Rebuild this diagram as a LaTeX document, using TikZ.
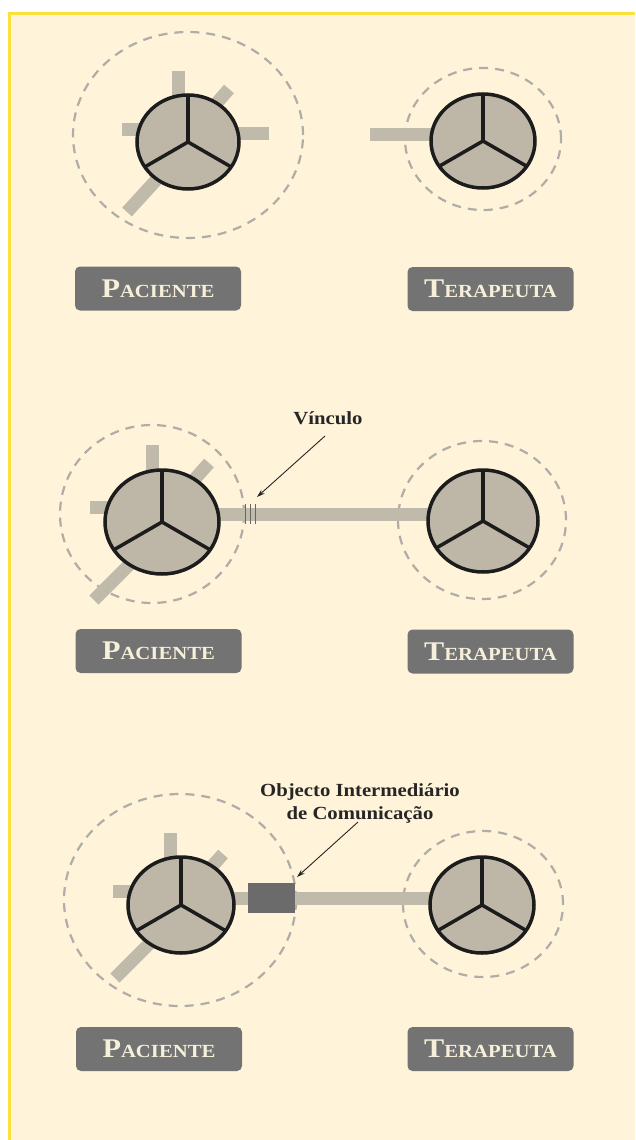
\documentclass[tikz,border=0pt]{standalone}
\usepackage{fontspec}
\setmainfont{Liberation Serif}
\usetikzlibrary{shapes.geometric,arrows.meta}
\definecolor{cream}{HTML}{FFF4D9}
\definecolor{gold}{HTML}{FFDF3A}
\definecolor{taupe}{HTML}{BEB6A7}
\definecolor{barc}{HTML}{C0BAAB}
\definecolor{dashc}{HTML}{B0ADA6}
\definecolor{labelc}{HTML}{737373}
\definecolor{labeltext}{HTML}{F6F0DA}
\definecolor{objc}{HTML}{6B6B6B}
\definecolor{ink}{HTML}{1C1C1C}
\newcommand{\fakesc}[2]{\scalebox{1.12}[1]{{\fontsize{27}{27}\selectfont #1}{\fontsize{18.5}{18.5}\selectfont #2}}}
\newcommand{\wide}[1]{\scalebox{1.12}[1]{#1}}
\tikzset{
  person/.style={ellipse, draw=ink, line width=3.5pt, fill=taupe, inner sep=0pt, outer sep=0pt},
  aura/.style={ellipse, draw=dashc, dash pattern=on 9pt off 7pt, line width=2.2pt, inner sep=0pt},
  bar/.style={draw=barc, line width=13pt},
  spoke/.style={draw=ink, line width=3.5pt},
  labelbox/.style={rectangle, rounded corners=5pt, fill=labelc, text=labeltext, font=\bfseries,
    minimum width=166pt, minimum height=44pt, inner sep=0pt},
  note/.style={font=\bfseries\fontsize{18.5}{23}\selectfont, text=black!85, align=center, inner sep=1pt},
  pointer/.style={draw=black!85, line width=0.9pt, -{Stealth[length=8pt,width=5pt]}},
  marker/.style={draw=black!60, line width=1pt}
}
\begin{document}
\begin{tikzpicture}[x=1pt,y=-1pt]
\useasboundingbox (0,0) rectangle (635,1140);
\fill[white] (0,0) rectangle (635,1140);
\fill[cream] (8,12) rectangle (635,1140);
\draw[gold, line width=2.6pt] (9.3,1140) -- (9.3,13.3) -- (635,13.3);

% ---------- Panel 1 ----------
\node[aura, minimum width=230pt, minimum height=206pt] (a1p) at (188,135) {};
\node[aura, minimum width=156pt, minimum height=142pt] (a1t) at (483,139) {};
\coordinate (p1c) at (188,142);
\coordinate (t1c) at (483,141);
\draw[bar] (178.5,71) -- (178.5,115);
\draw[bar] (229,89) -- (200,122);
\draw[bar] (122,129) -- (150,129);
\draw[bar] (269,133.5) -- (225,133.5);
\draw[bar] (127,212) -- (170,165);
\coordinate (b1) at (370,134);
\draw[bar] (b1) -- ([yshift=7pt]t1c);
\node[person, minimum width=102pt, minimum height=94pt] (p1) at (p1c) {};
\node[person, minimum width=104pt, minimum height=94pt] (t1) at (t1c) {};
\foreach \n in {p1,t1}{
  \draw[spoke] (\n.center) -- (\n.90);
  \draw[spoke] (\n.center) -- (\n.210);
  \draw[spoke] (\n.center) -- (\n.330);
}
\node[labelbox] (lp1) at (158,288.5) {\fakesc{P}{ACIENTE}};
\node[labelbox] (lt1) at (490.5,289) {\fakesc{T}{ERAPEUTA}};

% ---------- Panel 2 ----------
\node[aura, minimum width=184pt, minimum height=178pt] (a2p) at (152,514) {};
\node[aura, minimum width=168pt, minimum height=158pt] (a2t) at (482,520) {};
\coordinate (p2c) at (162,522);
\coordinate (t2c) at (483,521);
\draw[bar] (152.5,445) -- (152.5,490);
\draw[bar] (209,463) -- (185,490);
\draw[bar] (90,507) -- (125,507);
\draw[bar] (94,600) -- (140,554);
\draw[bar] ([yshift=8pt]p2c) -- ([yshift=7pt]t2c);
\node[person, minimum width=114pt, minimum height=104pt] (p2) at (p2c) {};
\node[person, minimum width=110pt, minimum height=102pt] (t2) at (t2c) {};
\foreach \n in {p2,t2}{
  \draw[spoke] (\n.center) -- (\n.90);
  \draw[spoke] (\n.center) -- (\n.210);
  \draw[spoke] (\n.center) -- (\n.330);
}
\foreach \x in {245,250,255}{
  \draw[marker] (\x,504) -- (\x,524);
}
\coordinate (vtip) at (257,497);
\node[note] (vin) at (328,418) {\wide{Vínculo}};
\draw[pointer] (325,436) -- (vtip);
\node[labelbox] (lp2) at (158.5,651) {\fakesc{P}{ACIENTE}};
\node[labelbox] (lt2) at (490.5,651.5) {\fakesc{T}{ERAPEUTA}};

% ---------- Panel 3 ----------
\node[aura, minimum width=232pt, minimum height=212pt] (a3p) at (180,900) {};
\node[aura, minimum width=160pt, minimum height=146pt] (a3t) at (483,904) {};
\coordinate (p3c) at (181,905);
\coordinate (t3c) at (482,905);
\coordinate (objc) at (271.5,898);
\draw[bar] (170.5,833) -- (170.5,870);
\draw[bar] (223,854) -- (200,880);
\draw[bar] (113,891) -- (145,891);
\draw[bar] (115,978) -- (160,933);
\draw[bar] ([yshift=7pt]p3c) -- (objc);
\draw[bar] (objc) -- ([yshift=7pt]t3c);
\node[person, minimum width=106pt, minimum height=96pt] (p3) at (p3c) {};
\node[person, minimum width=104pt, minimum height=96pt] (t3) at (t3c) {};
\foreach \n in {p3,t3}{
  \draw[spoke] (\n.center) -- (\n.90);
  \draw[spoke] (\n.center) -- (\n.210);
  \draw[spoke] (\n.center) -- (\n.330);
}
\node[rectangle, fill=objc, minimum width=47pt, minimum height=30pt, inner sep=0pt] (obj) at (objc) {};
\coordinate (otip) at (297,877);
\node[note] (oic) at (360,803) {\wide{Objecto Intermediário}\\\wide{de Comunicação}};
\draw[pointer] (358,822) -- (otip);
\node[labelbox] (lp3) at (159,1049) {\fakesc{P}{ACIENTE}};
\node[labelbox] (lt3) at (490.5,1049) {\fakesc{T}{ERAPEUTA}};
\end{tikzpicture}
\end{document}
